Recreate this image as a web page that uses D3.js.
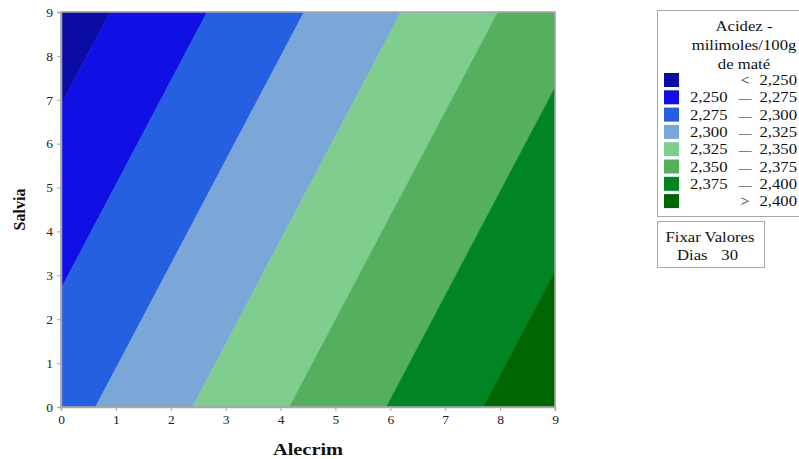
<!DOCTYPE html>
<html>
<head>
<meta charset="utf-8">
<script src="https://cdn.jsdelivr.net/npm/d3@7"></script>
<style>
  html, body { margin: 0; padding: 0; background: #fff; }
  svg { display: block; font-family: "Liberation Serif", "Times New Roman", serif; }
</style>
</head>
<body>
<svg id="chart" width="799" height="459"></svg>
<script>
// Response surface of acidity (mmol/100g of maté) at Dias = 30,
// given at the corners of the Alecrim x Salvia domain.
const alecrimGrid = [0, 9];
const salviaGrid = [0, 9];
// acidez[i][j] -> Salvia = salviaGrid[i], Alecrim = alecrimGrid[j]
const acidez = [
  [2.2911, 2.4185],
  [2.2373, 2.3647]
];

// Contour band limits and legend labels
const breaks = [2.250, 2.275, 2.300, 2.325, 2.350, 2.375, 2.400];
const bandColors = ["#0b0ba6", "#1010e4", "#2460e0", "#7ba6d8", "#80cd90", "#55b05e", "#008424", "#006600"];
const legendLow = ["", "2,250", "2,275", "2,300", "2,325", "2,350", "2,375", ""];
const legendSep = ["<", "\u2014", "\u2014", "\u2014", "\u2014", "\u2014", "\u2014", ">"];
const legendHigh = ["2,250", "2,275", "2,300", "2,325", "2,350", "2,375", "2,400", "2,400"];
const legendTitle = ["Acidez -", "milimoles/100g", "de maté"];
const fixedTitle = "Fixar Valores";
const fixedFactor = "Dias";
const fixedValue = "30";

const xTicks = d3.range(0, 10);
const yTicks = d3.range(0, 10);

const svg = d3.select("#chart");

const x = d3.scaleLinear().domain([0, 9]).range([61, 555]);
const y = d3.scaleLinear().domain([0, 9]).range([407, 12]);

// bilinear interpolation of the corner grid
function surface(a, s) {
  const tx = (a - alecrimGrid[0]) / (alecrimGrid[1] - alecrimGrid[0]);
  const ty = (s - salviaGrid[0]) / (salviaGrid[1] - salviaGrid[0]);
  const z0 = acidez[0][0] * (1 - tx) + acidez[0][1] * tx;
  const z1 = acidez[1][0] * (1 - tx) + acidez[1][1] * tx;
  return z0 * (1 - ty) + z1 * ty;
}

// Clip a polygon (data coords) to the part where sign*(z - level) >= 0
function clip(poly, level, sign) {
  const out = [];
  for (let i = 0; i < poly.length; i++) {
    const p = poly[i], q = poly[(i + 1) % poly.length];
    const fp = sign * (surface(p[0], p[1]) - level);
    const fq = sign * (surface(q[0], q[1]) - level);
    if (fp >= 0) out.push(p);
    if ((fp >= 0) !== (fq >= 0)) {
      const t = fp / (fp - fq);
      out.push([p[0] + t * (q[0] - p[0]), p[1] + t * (q[1] - p[1])]);
    }
  }
  return out;
}

const domainRect = [
  [alecrimGrid[0], salviaGrid[0]], [alecrimGrid[1], salviaGrid[0]],
  [alecrimGrid[1], salviaGrid[1]], [alecrimGrid[0], salviaGrid[1]]
];

const bands = bandColors.map((c, i) => {
  let poly = domainRect;
  if (i > 0) poly = clip(poly, breaks[i - 1], 1);
  if (i < breaks.length && poly.length) poly = clip(poly, breaks[i], -1);
  return { color: c, poly };
});

const line = d3.line().x(d => x(d[0])).y(d => y(d[1]));

svg.append("g").selectAll("path")
  .data(bands.filter(b => b.poly.length > 2))
  .join("path")
  .attr("d", d => line(d.poly) + "Z")
  .attr("fill", d => d.color)
  .attr("stroke", d => d.color)
  .attr("stroke-width", 0.5);

// frame
svg.append("rect")
  .attr("x", x(0)).attr("y", y(9))
  .attr("width", x(9) - x(0)).attr("height", y(0) - y(9))
  .attr("fill", "none").attr("stroke", "#a8a8a8").attr("stroke-width", 1.5);

// axes
const xAxis = svg.append("g").attr("transform", `translate(0,${y(0)})`)
  .call(d3.axisBottom(x).tickValues(xTicks).tickSize(4).tickPadding(3));
const yAxis = svg.append("g").attr("transform", `translate(${x(0)},0)`)
  .call(d3.axisLeft(y).tickValues(yTicks).tickSize(4).tickPadding(4));
[xAxis, yAxis].forEach(g => {
  g.select(".domain").attr("stroke", "#a8a8a8").attr("stroke-width", 1.5);
  g.selectAll(".tick line").attr("stroke", "#a8a8a8");
  g.selectAll(".tick text")
    .attr("font-family", "Liberation Serif, serif")
    .attr("font-size", 13.5).attr("fill", "#222");
});

// text helper with slight horizontal stretch
function label(parent, tx, ty, str, anchor, size, sx) {
  return parent.append("text")
    .attr("transform", `translate(${tx},${ty}) scale(${sx},1)`)
    .attr("text-anchor", anchor)
    .attr("font-size", size)
    .style("white-space", "pre")
    .text(str);
}

// axis titles
label(svg, (x(0) + x(9)) / 2, 455, "Alecrim", "middle", 17, 1.2)
  .attr("font-weight", "bold").attr("fill", "#111");
svg.append("text")
  .attr("transform", `translate(25,${(y(0) + y(9)) / 2}) rotate(-90)`)
  .attr("text-anchor", "middle")
  .attr("font-size", 16).attr("font-weight", "bold").attr("fill", "#111")
  .text("Salvia");

// legend
const lg = svg.append("g").attr("fill", "#111");
lg.append("rect")
  .attr("x", 657.5).attr("y", 10.5).attr("width", 145).attr("height", 206)
  .attr("fill", "#fff").attr("stroke", "#a8a8a8");
legendTitle.forEach((t, i) => {
  label(lg, 744, 31 + i * 19, t, "middle", 14.5, 1.15);
});
const rows = lg.selectAll("g.row").data(bandColors).join("g")
  .attr("class", "row")
  .attr("transform", (d, i) => `translate(0,${80 + i * 17.3})`);
rows.append("rect").attr("x", 664).attr("y", -7).attr("width", 15).attr("height", 14)
  .attr("fill", d => d);
rows.each(function (d, i) {
  const r = d3.select(this);
  label(r, 690, 5, legendLow[i], "start", 14.5, 1.15);
  label(r, 745, 5, legendSep[i], "middle", i === 0 || i === 7 ? 14.5 : 12, 1.1);
  label(r, 797, 5, legendHigh[i], "end", 14.5, 1.15);
});

// fixed factor box
const fg = svg.append("g").attr("fill", "#111");
fg.append("rect").attr("x", 657.5).attr("y", 221.5).attr("width", 107).attr("height", 46)
  .attr("fill", "#fff").attr("stroke", "#a8a8a8");
label(fg, 710, 242, fixedTitle, "middle", 14.5, 1.15);
label(fg, 677, 260, fixedFactor, "start", 14.5, 1.15);
label(fg, 738, 260, fixedValue, "end", 14.5, 1.15);
</script>
</body>
</html>
